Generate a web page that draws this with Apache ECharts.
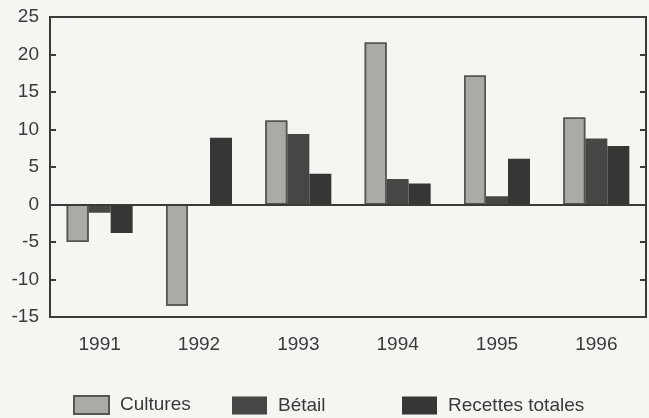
<!DOCTYPE html>
<html>
<head>
<meta charset="utf-8">
<script src="https://cdn.jsdelivr.net/npm/echarts@6/dist/echarts.min.js"></script>
<style>
  html, body { margin: 0; padding: 0; background: #f5f5f2; }
  #chart { width: 649px; height: 418px; }
</style>
</head>
<body>
<div id="chart"></div>
<script>
const years = ['1991', '1992', '1993', '1994', '1995', '1996'];
const cultures = [-5, -13.5, 11.2, 21.6, 17.2, 11.6];
const betail = [-1.1, 0, 9.4, 3.4, 1.1, 8.8];
const recettes = [-3.8, 8.9, 4.1, 2.8, 6.1, 7.8];

const font = 'Liberation Sans, Arial, sans-serif';
const chart = echarts.init(document.getElementById('chart'));

const legendBase = {
  bottom: 3,
  padding: 0,
  icon: 'rect',
  itemWidth: 35,
  itemHeight: 18,
  itemGap: 0,
  textStyle: { fontFamily: font, fontSize: 19, color: '#3a3a3a', padding: [0, 0, 0, 6] }
};

chart.setOption({
  animation: false,
  backgroundColor: '#f5f5f2',
  grid: {
    left: 50, right: 3, top: 17, bottom: 101,
    show: true,
    borderColor: '#3a3a3a',
    borderWidth: 2,
    backgroundColor: 'transparent'
  },
  legend: [
    Object.assign({}, legendBase, { left: 73, data: ['Cultures'] }),
    Object.assign({}, legendBase, { left: 232, data: ['Bétail'] }),
    Object.assign({}, legendBase, { left: 402, data: ['Recettes totales'] })
  ],
  xAxis: {
    type: 'category',
    data: years,
    axisLine: { onZero: false, lineStyle: { color: '#3a3a3a', width: 2 } },
    axisTick: { alignWithLabel: true, inside: true, length: 6, lineStyle: { color: '#3a3a3a', width: 2 } },
    axisLabel: { fontFamily: font, fontSize: 19, color: '#3a3a3a', margin: 18 },
    splitLine: { show: false }
  },
  yAxis: [
    {
      type: 'value', min: -15, max: 25, interval: 5,
      axisLine: { show: true, lineStyle: { color: '#3a3a3a', width: 2 } },
      axisTick: { show: true, inside: true, length: 6, lineStyle: { color: '#3a3a3a', width: 2 } },
      axisLabel: { fontFamily: font, fontSize: 19, color: '#3a3a3a', margin: 11 },
      splitLine: { show: false }
    },
    {
      type: 'value', min: -15, max: 25, interval: 5, position: 'right',
      axisLine: { show: true, lineStyle: { color: '#3a3a3a', width: 2 } },
      axisTick: { show: true, inside: true, length: 6, lineStyle: { color: '#3a3a3a', width: 2 } },
      axisLabel: { show: false },
      splitLine: { show: false }
    }
  ],
  series: [
    {
      name: 'Cultures',
      type: 'bar',
      data: cultures,
      barWidth: 22,
      barGap: '0%',
      itemStyle: {
        color: '#aaa9a5',
        borderColor: '#555',
        borderWidth: 1.5,
        decal: {
          symbol: 'circle', symbolSize: 0.4,
          dashArrayX: [2, 2], dashArrayY: [2, 2],
          color: 'rgba(225,225,220,0.6)'
        }
      },
      markLine: {
        silent: true,
        symbol: 'none',
        label: { show: false },
        lineStyle: { color: '#3a3a3a', width: 2, type: 'solid' },
        data: [{ yAxis: 0 }]
      }
    },
    {
      name: 'Bétail',
      type: 'bar',
      data: betail,
      barWidth: 22,
      itemStyle: { color: '#464644' }
    },
    {
      name: 'Recettes totales',
      type: 'bar',
      data: recettes,
      barWidth: 22,
      itemStyle: { color: '#363634' }
    }
  ]
});
</script>
</body>
</html>
